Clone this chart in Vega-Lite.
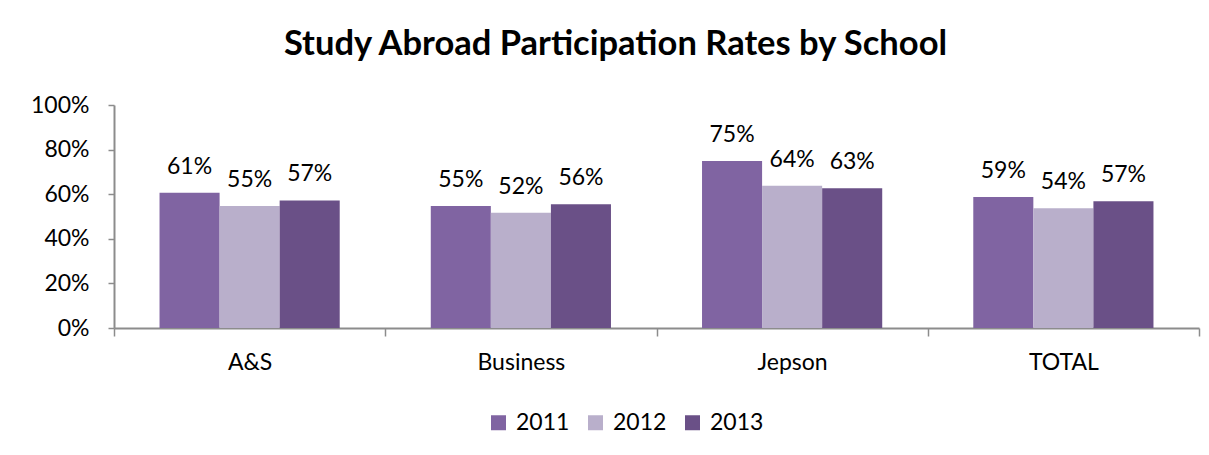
{
  "$schema": "https://vega.github.io/schema/vega-lite/v6.json",
  "width": 1085,
  "height": 223,
  "autosize": {"type": "none"},
  "padding": {"left": 114, "top": 105, "right": 10, "bottom": 127},
  "background": "white",
  "title": {
    "text": "Study Abroad Participation Rates by School",
    "font": "Lato",
    "fontSize": 34.5,
    "fontWeight": "bold",
    "color": "#000000",
    "anchor": "middle",
    "baseline": "alphabetic",
    "dx": -41,
    "offset": 5
  },
  "data": {
    "values": [
      {"school": "A&S", "year": "2011", "rate": 0.607},
      {"school": "A&S", "year": "2012", "rate": 0.547},
      {"school": "A&S", "year": "2013", "rate": 0.572},
      {"school": "Business", "year": "2011", "rate": 0.547},
      {"school": "Business", "year": "2012", "rate": 0.517},
      {"school": "Business", "year": "2013", "rate": 0.555},
      {"school": "Jepson", "year": "2011", "rate": 0.749},
      {"school": "Jepson", "year": "2012", "rate": 0.638},
      {"school": "Jepson", "year": "2013", "rate": 0.627},
      {"school": "TOTAL", "year": "2011", "rate": 0.587},
      {"school": "TOTAL", "year": "2012", "rate": 0.537},
      {"school": "TOTAL", "year": "2013", "rate": 0.568}
    ]
  },
  "encoding": {
    "x": {
      "field": "school",
      "type": "nominal",
      "sort": null,
      "scale": {"paddingInner": 0, "paddingOuter": 0},
      "axis": {
        "title": null,
        "labelAngle": 0,
        "tickBand": "extent",
        "tickSize": 8,
        "tickColor": "#8c8c8c",
        "tickWidth": 1.5,
        "domainColor": "#8c8c8c",
        "domainWidth": 2,
        "labelFont": "Lato",
        "labelFontSize": 23,
        "labelColor": "#000000",
        "labelPadding": 15
      }
    },
    "xOffset": {"field": "year", "type": "nominal", "scale": {"paddingInner": 0, "paddingOuter": 0.758}},
    "y": {
      "field": "rate",
      "type": "quantitative",
      "scale": {"domain": [0, 1]},
      "axis": {
        "title": null,
        "format": ".0%",
        "values": [0, 0.2, 0.4, 0.6, 0.8, 1],
        "grid": false,
        "tickSize": 6,
        "tickColor": "#8c8c8c",
        "tickWidth": 1.5,
        "domainColor": "#8c8c8c",
        "domainWidth": 2,
        "labelFont": "Lato",
        "labelFontSize": 23,
        "labelColor": "#000000",
        "labelPadding": 19
      }
    }
  },
  "layer": [
    {
      "mark": {"type": "bar"},
      "encoding": {
        "color": {
          "field": "year",
          "type": "nominal",
          "scale": {"domain": ["2011", "2012", "2013"], "range": ["#8064A2", "#B9AFCB", "#6A5087"]},
          "legend": {
            "title": null,
            "orient": "none",
            "direction": "horizontal",
            "legendX": 373,
            "legendY": 306,
            "symbolType": "square",
            "symbolSize": 225,
            "symbolStrokeWidth": 0,
            "labelFont": "Lato",
            "labelFontSize": 23,
            "labelColor": "#000000",
            "labelOffset": 6,
            "columnPadding": 14
          }
        }
      }
    },
    {
      "mark": {"type": "text", "baseline": "alphabetic", "dy": -19, "font": "Lato", "fontSize": 23, "color": "#000000"},
      "encoding": {
        "text": {"field": "rate", "type": "quantitative", "format": ".0%"}
      }
    }
  ],
  "config": {"view": {"stroke": null}}
}
